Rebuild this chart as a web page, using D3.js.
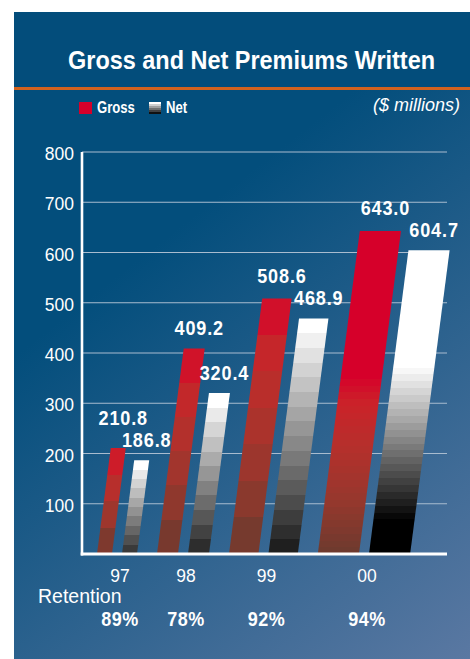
<!DOCTYPE html>
<html><head><meta charset="utf-8">
<script src="https://cdn.jsdelivr.net/npm/d3@7"></script>
<style>html,body{margin:0;padding:0;background:#fff;} svg{display:block}</style>
</head><body><svg id="c" width="470" height="659"></svg>
<script>
// ---- data ----
const years = ["97", "98", "99", "00"];
const gross = [210.8, 409.2, 508.6, 643.0];
const net = [186.8, 320.4, 468.9, 604.7];
const retention = ["89%", "78%", "92%", "94%"];
const yTicks = [100, 200, 300, 400, 500, 600, 700, 800];
const titleText = "Gross and Net Premiums Written";
const unitText = "($ millions)";
const retentionLabel = "Retention";
const seriesNames = ["Gross", "Net"];

// ---- layout / style ----
const W = 470, H = 659;
const sans = "'Liberation Sans',Arial,sans-serif";
const svg = d3.select("#c");
const defs = svg.append("defs");

// condensed bold text via horizontal scaling
function narrowText(parent, x, y, size, sx, anchor, txt, spacing) {
  return parent.append("text")
    .attr("transform", `translate(${x},${y}) scale(${sx},1)`)
    .attr("text-anchor", anchor)
    .attr("font-family", sans).attr("font-weight", "bold").attr("font-size", size)
    .attr("letter-spacing", spacing || 0)
    .attr("fill", "#fff").text(txt);
}

const bg = defs.append("linearGradient").attr("id", "bg")
  .attr("gradientUnits", "userSpaceOnUse")
  .attr("x1", 150).attr("y1", 250).attr("x2", 470).attr("y2", 659);
bg.append("stop").attr("offset", 0).attr("stop-color", "#034e7c");
bg.append("stop").attr("offset", 1).attr("stop-color", "#5a78a2");

svg.append("rect").attr("x", 14).attr("y", 12).attr("width", W - 14).attr("height", H - 12).attr("fill", "url(#bg)");
svg.append("rect").attr("x", 14).attr("y", 12).attr("width", W - 14).attr("height", 75).attr("fill", "#034d7b");
svg.append("rect").attr("x", 14).attr("y", 87).attr("width", W - 14).attr("height", 3).attr("fill", "#d2621e");

narrowText(svg, 251.5, 69, 26.5, 0.885, "middle", titleText);

// scales
const y = d3.scaleLinear().domain([0, 800]).range([554, 152]);
const axisLeft = 82, axisRight = 447;
const slant = 0.13;
const baseW = 15, growth = 1.4, pairGap = 10, groupGap = 20, x0 = 97;
const widths = years.map((d, i) => baseW * Math.pow(growth, i));
const starts = [];
let cur = x0;
widths.forEach(w => { starts.push(cur); cur += 2 * w + pairGap + groupGap; });
const xGroup = d3.scaleOrdinal().domain(years).range(starts);
const wScale = d3.scaleOrdinal().domain(years).range(widths);

// gridlines
svg.append("g").selectAll("line").data(yTicks).join("line")
  .attr("x1", axisLeft).attr("x2", axisRight)
  .attr("y1", d => y(d)).attr("y2", d => y(d))
  .attr("stroke", "#a9bccf").attr("stroke-width", 1.2);

// y tick labels
svg.append("g").selectAll("text").data(yTicks).join("text")
  .attr("x", 74).attr("y", d => y(d) + 8).attr("text-anchor", "end")
  .attr("font-family", sans).attr("font-size", 17.5).attr("fill", "#fff")
  .text(d => d);

// color profiles
const grossColor = d3.scaleLinear().domain([0, 0.3, 0.6, 0.85, 1])
  .range(["#6c3a2e", "#96382d", "#b5302c", "#cb2229", "#d6002a"]);
const grossSteps = [4, 6, 7, 48];
const grossSpan = [1, 1, 1, 0.55];
const netSteps = [10, 11, 16, 44];
const netDark = ["#3a3a3a", "#2d2d2d", "#1f1f1f", "#000000"];
const netLo = [0, 0, 0, 0.1];
const netHi = [1, 1, 1, 0.62];

function makeGrad(id, n, colorAt) {
  const g = defs.append("linearGradient").attr("id", id)
    .attr("x1", 0).attr("y1", 1).attr("x2", 0).attr("y2", 0);
  for (let i = 0; i < n; i++) {
    const c = colorAt(i, n);
    g.append("stop").attr("offset", i / n).attr("stop-color", c);
    g.append("stop").attr("offset", (i + 1) / n).attr("stop-color", c);
  }
}

years.forEach((yr, i) => {
  makeGrad("g" + i, grossSteps[i], (k, n) => {
    const f = Math.min(1, ((k + 0.5) / n) / grossSpan[i]);
    return grossColor(f);
  });
  makeGrad("n" + i, netSteps[i], (k, n) => {
    const f = k / (n - 1);
    const t = Math.max(0, Math.min(1, (f - netLo[i]) / (netHi[i] - netLo[i])));
    return d3.interpolateRgb(netDark[i], "#ffffff")(t);
  });
});

function para(xb, w, v) {
  const y0 = y(0), y1 = y(v), s = slant * (y0 - y1);
  return `M${xb},${y0}L${xb + w},${y0}L${xb + w + s},${y1}L${xb + s},${y1}Z`;
}

const bars = [];
years.forEach((yr, i) => {
  const w = wScale(yr), xs = xGroup(yr);
  bars.push({ key: "g" + i, x: xs, w, v: gross[i], type: "g", i });
  bars.push({ key: "n" + i, x: xs + w + pairGap, w, v: net[i], type: "n", i });
});

svg.append("g").selectAll("path").data(bars).join("path")
  .attr("d", d => para(d.x, d.w, d.v))
  .attr("fill", d => `url(#${d.key})`);

// axis lines
svg.append("line").attr("x1", axisLeft).attr("x2", axisLeft).attr("y1", y(800)).attr("y2", y(0) + 1.5)
  .attr("stroke", "#fff").attr("stroke-width", 2.6);
svg.append("line").attr("x1", axisLeft - 1.3).attr("x2", axisRight).attr("y1", y(0)).attr("y2", y(0))
  .attr("stroke", "#fff").attr("stroke-width", 2.8);

// value labels
const labelPos = bars.map(d => {
  const h = y(0) - y(d.v);
  return { ...d, lx: d.x + d.w / 2 + slant * h + 5, ly: y(d.v) - 13 };
});
for (let i = 0; i < years.length; i++) {
  const g = labelPos[2 * i], n = labelPos[2 * i + 1];
  if (g.ly > n.ly - 20) g.ly = n.ly - 22;
}
const vl = svg.append("g");
labelPos.forEach(d => narrowText(vl, d.lx, d.ly, 20.5, 0.88, "middle", d.v.toFixed(1), 1));

// year labels & retention
const groupCenter = yr => xGroup(yr) + wScale(yr) + pairGap / 2 + 3;
svg.append("g").selectAll("text").data(years).join("text")
  .attr("x", d => groupCenter(d)).attr("y", 582).attr("text-anchor", "middle")
  .attr("font-family", sans).attr("font-size", 17.5).attr("fill", "#fff").text(d => d);
svg.append("text").attr("x", 38).attr("y", 603).attr("font-family", sans).attr("font-size", 19.5)
  .attr("fill", "#fff").text(retentionLabel);
const rl = svg.append("g");
retention.forEach((d, i) => narrowText(rl, groupCenter(years[i]), 626, 20, 0.9, "middle", d, 0.5));

// legend
makeGrad("legN", 6, (k, n) => d3.interpolateRgb("#111", "#fff")(k / (n - 1)));
const leg = svg.append("g");
leg.append("rect").attr("x", 79).attr("y", 102).attr("width", 13).attr("height", 12).attr("fill", "#d6002a");
narrowText(leg, 97, 112.5, 16, 0.82, "start", seriesNames[0]);
leg.append("rect").attr("x", 149).attr("y", 102).attr("width", 12).attr("height", 12).attr("fill", "url(#legN)");
narrowText(leg, 166, 112.5, 16, 0.82, "start", seriesNames[1]);
svg.append("text").attr("x", 460).attr("y", 111).attr("text-anchor", "end")
  .attr("font-family", sans).attr("font-style", "italic").attr("font-size", 18)
  .attr("fill", "#fff").text(unitText);
</script>
</body></html>
